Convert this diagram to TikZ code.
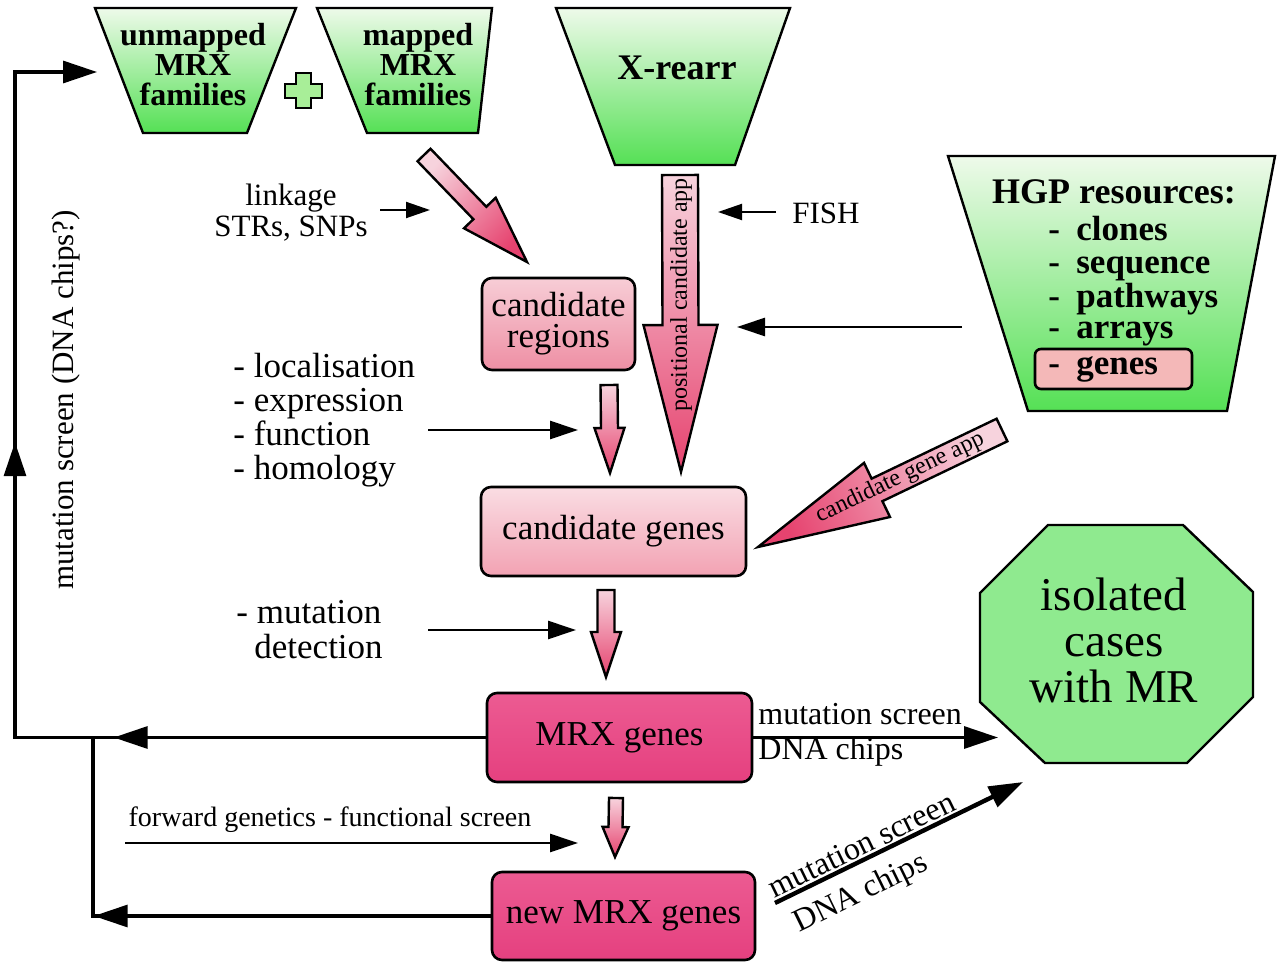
\documentclass[tikz,border=0pt]{standalone}
\usepackage{fontspec}
\setmainfont{Liberation Serif}
\usetikzlibrary{arrows.meta,calc,decorations.markings}

\definecolor{gTop}{HTML}{EEFAEA}
\definecolor{gBot}{HTML}{55E055}
\definecolor{octG}{HTML}{8FEA8F}
\definecolor{plusG}{HTML}{A8EE98}
\definecolor{pinkL}{HTML}{F7D3DD}
\definecolor{pinkD}{HTML}{E6436F}
\definecolor{magB}{HTML}{E5407F}
\definecolor{magT}{HTML}{EC5B92}
\definecolor{regT}{HTML}{F7CDD6}
\definecolor{regB}{HTML}{EE8FA4}
\definecolor{genT}{HTML}{FADDE3}
\definecolor{genB}{HTML}{F2A2B3}
\definecolor{salm}{HTML}{F4B8B8}

\newcommand\blockarr[6]{%
  \coordinate (ba-h) at ($(#2)!#5!(#1)$);
  \path[#6] ($(#1)!#3!90:(#2)$) -- ($(ba-h)!#3!90:(#2)$) -- ($(ba-h)!#4!90:(#2)$) -- (#2)
    -- ($(ba-h)!#4!-90:(#2)$) -- ($(ba-h)!#3!-90:(#2)$) -- ($(#1)!#3!-90:(#2)$) -- cycle;
}

\begin{document}
\begin{tikzpicture}[x=0.5pt,y=-0.5pt,
  funnel/.style={draw=black, line width=1.2pt, top color=gTop, bottom color=gBot},
  ftext/.style={font=\bfseries\fontsize{16}{15}\selectfont, align=center, inner sep=0pt},
  htext/.style={font=\bfseries\fontsize{17.5}{16.5}\selectfont, inner sep=0pt},
  barrow/.style={draw=black, line width=1.2pt, top color=pinkL, bottom color=pinkD},
  rbox/.style={draw=black, line width=1.3pt, rounded corners=5pt, inner sep=0pt, align=center},
  boxtext/.style={font=\fontsize{17.5}{15.5}\selectfont},
  lbl/.style={inner sep=0pt, align=center, font=\fontsize{15.5}{15.5}\selectfont},
  listlbl/.style={inner sep=0pt, align=left, font=\fontsize{17.5}{17}\selectfont},
  thinarr/.style={line width=1pt, -{Triangle[length=12pt,width=8pt]}},
  midarr/.style={line width=1.3pt, -{Triangle[length=14pt,width=9pt]}},
  bigarr/.style={line width=1.6pt, -{Triangle[length=17pt,width=11pt]}},
  loopln/.style={line width=1.6pt}
]
\useasboundingbox (0,0) rectangle (1280,973);

% ---------- funnels ----------
\path[funnel] (95,8) -- (296,8) -- (247,133) -- (143,133) -- cycle;
\node[ftext] (unmapped) at (193,65) {unmapped\\MRX\\families};
\path[funnel] (317,8) -- (492,8) -- (478,133) -- (367,133) -- cycle;
\node[ftext] (mapped) at (418,65) {mapped\\MRX\\families};
\path[draw=black, line width=1.2pt, fill=plusG]
  (296,73) -- (311,73) -- (311,84) -- (322,84) -- (322,98) -- (311,98) -- (311,108)
  -- (296,108) -- (296,98) -- (285,98) -- (285,84) -- (296,84) -- cycle;
\path[funnel] (556,8) -- (790,8) -- (735,165) -- (615,165) -- cycle;
\node[ftext, font=\bfseries\fontsize{18}{18}\selectfont] (xrearr) at (677,68) {X-rearr};

\path[funnel] (948,156) -- (1275,156) -- (1227,411) -- (1028,411) -- cycle;
\node[rbox, fill=salm, minimum width=78.5pt, minimum height=20pt, rounded corners=3pt] (hgpgenes) at (1113.5,369) {};
\node[htext, font=\bfseries\fontsize{18}{18}\selectfont, anchor=base] (hgp) at (1114,204) {HGP resources:};
\node[htext, anchor=base west] (hgp1) at (1048,241) {\makebox[14pt][l]{-}clones};
\node[htext, anchor=base west] (hgp2) at (1048,274) {\makebox[14pt][l]{-}sequence};
\node[htext, anchor=base west] (hgp3) at (1048,307) {\makebox[14pt][l]{-}pathways};
\node[htext, anchor=base west] (hgp4) at (1048,339) {\makebox[14pt][l]{-}arrays};
\node[htext, anchor=base west] (hgp5) at (1048,374) {\makebox[14pt][l]{-}genes};

% ---------- boxes ----------
\node[rbox, boxtext, top color=regT, bottom color=regB, minimum width=76.5pt, minimum height=46pt] (regions) at (558.5,324) {candidate\\regions};
\node[rbox, boxtext, top color=genT, bottom color=genB, minimum width=132.5pt, minimum height=44.5pt] (cgenes) at (613.5,531.5) {candidate genes};
\node[rbox, boxtext, top color=magT, bottom color=magB, minimum width=132.5pt, minimum height=44.5pt] (mrx) at (619.5,737.5) {MRX genes};
\node[rbox, boxtext, top color=magT, bottom color=magB, minimum width=131.5pt, minimum height=44pt] (newmrx) at (623.5,916) {new MRX genes};

% ---------- octagon ----------
\path[draw=black, line width=1.2pt, fill=octG]
  (1048,525) -- (1183,525) -- (1253,592) -- (1253,697) -- (1187,763) -- (1045,763) -- (980,702) -- (980,593) -- cycle;
\node[inner sep=0pt, align=center, font=\fontsize{23.5}{23}\selectfont] (iso) at (1114,640) {isolated\\cases\\with MR};

% ---------- block arrows ----------
\coordinate (a1s) at (424,155); \coordinate (a1e) at (527,262);
\blockarr{a1s}{a1e}{4.5pt}{11pt}{34pt}{barrow, shading angle=47}
\coordinate (a2s) at (680,175); \coordinate (a2e) at (681,472);
\blockarr{a2s}{a2e}{9pt}{18.5pt}{73.5pt}{barrow}
\node[rotate=90, inner sep=0pt, font=\fontsize{12}{12}\selectfont] (poslbl) at (681,295) {positional candidate app};
\coordinate (a3s) at (609,385); \coordinate (a3e) at (610,473);
\blockarr{a3s}{a3e}{4.25pt}{7.5pt}{22.5pt}{barrow}
\coordinate (a4s) at (606,590); \coordinate (a4e) at (606,677);
\blockarr{a4s}{a4e}{4.25pt}{7.5pt}{22.5pt}{barrow}
\coordinate (a5s) at (616,798); \coordinate (a5e) at (615,857);
\blockarr{a5s}{a5e}{3.5pt}{6.5pt}{15pt}{barrow}
\coordinate (a6s) at (1002,430); \coordinate (a6e) at (758,547);
\blockarr{a6s}{a6e}{6.25pt}{15pt}{66pt}{barrow, shading angle=-66}
\node[rotate=25.6, inner sep=0pt, font=\fontsize{12}{12}\selectfont] (cglbl) at (900,478) {candidate gene app};

% ---------- labels and thin arrows ----------
\node[lbl] (linkage) at (291,213) {linkage\\STRs, SNPs};
\coordinate (lkS) at (380,210); \coordinate (lkE) at (430,210);
\draw[thinarr] (lkS) -- (lkE);

\node[lbl] (fish) at (826,213) {FISH};
\coordinate (fiS) at (776,212); \coordinate (fiE) at (718,212);
\draw[thinarr] (fiS) -- (fiE);

\coordinate (hgS) at (962,327); \coordinate (hgE) at (737,327);
\draw[midarr] (hgS) -- (hgE);

\node[listlbl, anchor=west] (props) at (233,420) {- localisation\\- expression\\- function\\- homology};
\coordinate (prS) at (428,430); \coordinate (prE) at (578,430);
\draw[midarr] (prS) -- (prE);

\node[listlbl, anchor=west, font=\fontsize{17.5}{17.5}\selectfont] (mutdet) at (236,630) {- mutation\\\hspace*{9pt}detection};
\coordinate (mdS) at (428,630); \coordinate (mdE) at (576,630);
\draw[midarr] (mdS) -- (mdE);

\node[lbl, font=\fontsize{14}{14}\selectfont] (fwd) at (330,820) {forward genetics - functional screen};
\coordinate (fwS) at (125,843); \coordinate (fwE) at (578,843);
\draw[midarr] (fwS) -- (fwE);

% MRX genes -> isolated cases
\coordinate (moE) at (998,737.5);
\draw[bigarr] (mrx.east) -- (moE);
\node[lbl, font=\fontsize{16}{16}\selectfont, anchor=west] (ms1) at (758,714) {mutation screen};
\node[lbl, font=\fontsize{16}{16}\selectfont, anchor=west] (dc1) at (758,752) {DNA chips};

% new MRX genes -> isolated cases
\coordinate (nmS) at (775,903); \coordinate (nmE) at (1023,782);
\draw[line width=2.2pt, -{Triangle[length=17pt,width=11pt]}] (nmS) -- (nmE);
\node[rotate=26, inner sep=0pt, anchor=base, font=\fontsize{16}{16}\selectfont] (ms2) at (866,854) {mutation screen};
\node[rotate=26, inner sep=0pt, font=\fontsize{16}{16}\selectfont] (dc2) at (861,894) {DNA chips};

% ---------- feedback loop ----------
\coordinate (loopTL) at (15,72);
\coordinate (loopEnd) at (97,72);
\coordinate (junc) at (93,737.5);
\draw[loopln, -{Triangle[length=17pt,width=11pt]},
  postaction={decorate},
  decoration={markings,
    mark=at position 186pt with {\arrow{Triangle[length=17pt,width=11pt]}},
    mark=at position 383pt with {\arrow{Triangle[length=17pt,width=11pt]}}}]
  (mrx.west) -| (loopTL) -- (loopEnd);
\draw[loopln, postaction={decorate},
  decoration={markings,
    mark=at position 198.5pt with {\arrow{Triangle[length=17pt,width=11pt]}}}]
  (newmrx.west) -| (junc);
\node[rotate=90, inner sep=0pt, font=\fontsize{15.5}{15.5}\selectfont] (mslbl) at (66,400) {mutation screen (DNA chips?)};

\end{tikzpicture}
\end{document}
